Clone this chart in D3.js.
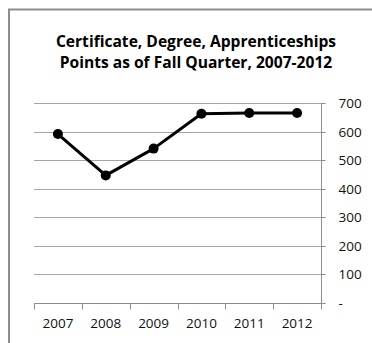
<!DOCTYPE html>
<html><head><meta charset="utf-8">
<script src="https://cdn.jsdelivr.net/npm/d3@7"></script>
<style>html,body{margin:0;padding:0;background:#fff;}svg{display:block;}</style>
</head><body>
<svg id="c" width="372" height="343"></svg>
<script>
const years = ["2007","2008","2009","2010","2011","2012"];
const points = [591, 446, 540, 662, 665, 665];
const yTicks = [0, 100, 200, 300, 400, 500, 600, 700];
const titleLines = ["Certificate, Degree, Apprenticeships", "Points as of Fall Quarter, 2007-2012"];

const svg = d3.select("#c");
const font = "'Open Sans', sans-serif";
// outer frame
svg.append("rect").attr("x", 9).attr("y", 9.5).attr("width", 400).attr("height", 400)
  .attr("fill", "none").attr("stroke", "#8c8c8c").attr("stroke-width", 2);

const m = {left: 34, right: 321, top: 103, bottom: 302.5};
const x = d3.scaleBand().domain(years).range([m.left, m.right]);
const y = d3.scaleLinear().domain([0, 700]).range([m.bottom, m.top]);

// title
const title = svg.append("text").attr("text-anchor", "middle")
  .attr("font-family", font).attr("font-weight", "bold").attr("font-size", 15.6).attr("fill", "#000");
titleLines.forEach((t, i) => title.append("tspan").attr("x", 196).attr("y", 47 + i * 21).text(t));

// gridlines
svg.append("g").selectAll("line").data(yTicks.filter(d => d > 0)).join("line")
  .attr("x1", m.left).attr("x2", m.right).attr("y1", d => Math.round(y(d)) + 0.5).attr("y2", d => Math.round(y(d)) + 0.5)
  .attr("stroke", "#a6a6a6").attr("stroke-width", 1);

// right axis
const ya = svg.append("g").attr("transform", `translate(${m.right + 0.5},0)`)
  .call(d3.axisRight(y).tickValues(yTicks).tickSize(4).tickPadding(14)
    .tickFormat(d => d === 0 ? "-" : d3.format("d")(d)));
ya.select(".domain").attr("stroke", "#8c8c8c").attr("d", `M0,${y(700)}V${y(0)+6}`);
ya.selectAll(".tick line").attr("stroke", "#8c8c8c");
ya.selectAll(".tick").attr("transform", d => `translate(0,${Math.round(y(d)) + 0.5})`);
ya.selectAll(".tick text").attr("font-family", font).attr("font-size", 13.5).attr("fill", "#111")
  .attr("text-anchor", "start").attr("x", 17);

// bottom axis
const xb = svg.append("g").attr("transform", `translate(0,${Math.round(m.bottom) + 0.5})`);
xb.append("line").attr("x1", m.left).attr("x2", m.right).attr("stroke", "#8c8c8c");
const bounds = years.map(d => x(d)).concat([m.right]);
xb.selectAll("line.tk").data(bounds).join("line").attr("class", "tk")
  .attr("x1", d => Math.round(d) + 0.5).attr("x2", d => Math.round(d) + 0.5).attr("y1", 0).attr("y2", 6)
  .attr("stroke", "#8c8c8c");
xb.selectAll("text").data(years).join("text")
  .attr("x", d => x(d) + x.bandwidth() / 2).attr("y", 24).attr("text-anchor", "middle")
  .attr("font-family", font).attr("font-size", 13.5).attr("fill", "#111").text(d => d);

// line + markers
const line = d3.line().x((d, i) => x(years[i]) + x.bandwidth() / 2).y(d => y(d));
svg.append("path").datum(points).attr("d", line).attr("fill", "none")
  .attr("stroke", "#000").attr("stroke-width", 3).attr("stroke-linejoin", "round");
svg.append("g").selectAll("circle").data(points).join("circle")
  .attr("cx", (d, i) => x(years[i]) + x.bandwidth() / 2).attr("cy", d => y(d)).attr("r", 5).attr("fill", "#000");
</script>
</body></html>
